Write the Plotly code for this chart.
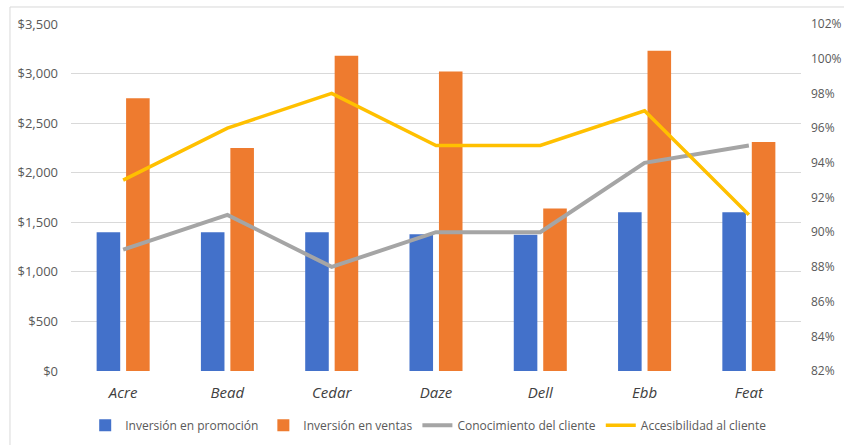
import plotly.graph_objects as go

# Datos
categorias = ["Acre", "Bead", "Cedar", "Daze", "Dell", "Ebb", "Feat"]
inversion_promocion = [1400, 1400, 1400, 1380, 1375, 1600, 1600]
inversion_ventas = [2750, 2250, 3180, 3020, 1640, 3230, 2310]
conocimiento_cliente = [0.89, 0.91, 0.88, 0.90, 0.90, 0.94, 0.95]
accesibilidad_cliente = [0.93, 0.96, 0.98, 0.95, 0.95, 0.97, 0.91]

FONT = "Open Sans"

fig = go.Figure()

fig.add_trace(go.Bar(
    x=categorias, y=inversion_promocion,
    name="Inversión en promoción",
    marker=dict(color="#4371CA", line=dict(width=0)),
))
fig.add_trace(go.Bar(
    x=categorias, y=inversion_ventas,
    name="Inversión en ventas",
    marker=dict(color="#EE7B2F", line=dict(width=0)),
))
fig.add_trace(go.Scatter(
    x=categorias, y=conocimiento_cliente,
    name="Conocimiento del cliente",
    mode="lines", yaxis="y2",
    line=dict(color="#A5A5A5", width=4),
))
fig.add_trace(go.Scatter(
    x=categorias, y=accesibilidad_cliente,
    name="Accesibilidad al cliente",
    mode="lines", yaxis="y2",
    line=dict(color="#FFC000", width=3.5),
))

fig.update_layout(
    width=844, height=445,
    margin=dict(l=71, r=43, t=24, b=74, autoexpand=False),
    paper_bgcolor="white", plot_bgcolor="white",
    font=dict(family=FONT, color="#595959", size=12),
    barmode="group", bargap=0.435, bargroupgap=0.2,
    showlegend=True,
    legend=dict(
        orientation="h", x=0.49, xanchor="center", y=-0.156, yanchor="middle",
        font=dict(size=12, color="#595959"), itemwidth=30,
        traceorder="normal",
    ),
    xaxis=dict(
        showgrid=False, zeroline=False, showline=False, automargin=False,
        tickfont=dict(size=15, color="#404040", style="italic"),
        ticklabelstandoff=11,
    ),
    yaxis=dict(
        range=[0, 3500], dtick=500, tickprefix="$", tickformat=",",
        showgrid=True, gridcolor="#D9D9D9", gridwidth=1,
        zeroline=False, showline=False, automargin=False,
        tickfont=dict(size=13, color="#595959"),
        ticklabelstandoff=12,
    ),
    yaxis2=dict(
        overlaying="y", side="right",
        range=[0.82, 1.02], dtick=0.02, tickformat=".0%",
        showgrid=False, zeroline=False, showline=False, automargin=False,
        tickfont=dict(size=12, color="#595959"),
        ticklabelstandoff=9,
    ),
    shapes=[dict(
        type="rect", xref="paper", yref="paper",
        x0=-0.0836, x1=1.1, y0=-0.3, y1=1.049,
        line=dict(color="#D9D9D9", width=1), fillcolor="rgba(0,0,0,0)",
        layer="below",
    )],
)

fig.write_html(
    "out.html",
    config={"displayModeBar": False},
    post_script="document.body.style.margin='0';",
)
